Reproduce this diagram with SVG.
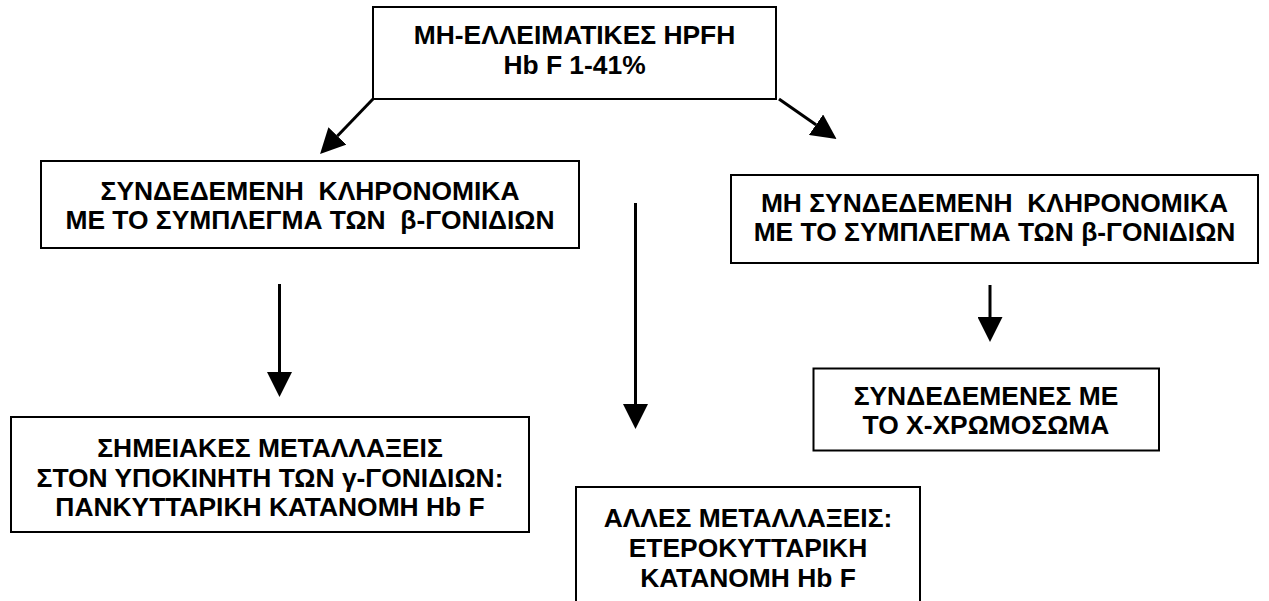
<svg xmlns="http://www.w3.org/2000/svg" width="1269" height="601" viewBox="0 0 1269 601">
<defs>
<style>
.box{fill:#fff;stroke:#000;stroke-width:2}
.t{font-family:"Liberation Sans",Arial,sans-serif;font-weight:bold;font-size:26.4px;fill:#000;text-anchor:middle;white-space:pre}
.c{stroke:#000;stroke-width:3;fill:none}
</style>
<marker id="ah" viewBox="0 0 25 25" refX="0" refY="12.5" markerWidth="25" markerHeight="25" markerUnits="userSpaceOnUse" orient="auto">
<path d="M0,0 L25,12.5 L0,25 Z" fill="#000"/>
</marker>
</defs>
<rect width="1269" height="601" fill="#fff"/>
<g id="connectors">
<path class="c" d="M373,99 L337.4,136" marker-end="url(#ah)"/>
<path class="c" d="M779,99 L816,124.7" marker-end="url(#ah)"/>
<path class="c" d="M279.5,284 L279.5,372" marker-end="url(#ah)"/>
<path class="c" d="M635.5,203 L635.5,404" marker-end="url(#ah)"/>
<path class="c" d="M990,285 L990,317" marker-end="url(#ah)"/>
</g>
<g id="n1">
<rect class="box" x="373" y="7" width="403" height="92"/>
<text class="t" x="574.5" y="44">ΜΗ-ΕΛΛΕΙΜΑΤΙΚΕΣ HPFH</text>
<text class="t" x="574.5" y="74">Hb F 1-41%</text>
</g>
<g id="n2">
<rect class="box" x="41" y="161" width="538" height="87"/>
<text class="t" x="310" y="200">ΣΥΝΔΕΔΕΜΕΝΗ  ΚΛΗΡΟΝΟΜΙΚΑ</text>
<text class="t" x="310" y="228.5">ΜΕ ΤΟ ΣΥΜΠΛΕΓΜΑ ΤΩΝ  β-ΓΟΝΙΔΙΩΝ</text>
</g>
<g id="n3">
<rect class="box" x="731" y="175" width="527" height="88"/>
<text class="t" x="994.5" y="212">ΜΗ ΣΥΝΔΕΔΕΜΕΝΗ  ΚΛΗΡΟΝΟΜΙΚΑ</text>
<text class="t" x="994.5" y="241">ΜΕ ΤΟ ΣΥΜΠΛΕΓΜΑ ΤΩΝ β-ΓΟΝΙΔΙΩΝ</text>
</g>
<g id="n4">
<rect class="box" x="11" y="417" width="518" height="115"/>
<text class="t" x="270" y="457">ΣΗΜΕΙΑΚΕΣ ΜΕΤΑΛΛΑΞΕΙΣ</text>
<text class="t" x="270" y="486.5">ΣΤΟΝ ΥΠΟΚΙΝΗΤΗ ΤΩΝ γ-ΓΟΝΙΔΙΩΝ:</text>
<text class="t" x="270" y="516">ΠΑΝΚΥΤΤΑΡΙΚΗ ΚΑΤΑΝΟΜΗ Hb F</text>
</g>
<g id="n5">
<rect class="box" x="576" y="487" width="344" height="130"/>
<text class="t" x="748" y="527">ΑΛΛΕΣ ΜΕΤΑΛΛΑΞΕΙΣ:</text>
<text class="t" x="748" y="557">ΕΤΕΡΟΚΥΤΤΑΡΙΚΗ</text>
<text class="t" x="748" y="587">ΚΑΤΑΝΟΜΗ Hb F</text>
</g>
<g id="n6">
<rect class="box" x="813.5" y="368.5" width="345.5" height="82"/>
<text class="t" x="986" y="405">ΣΥΝΔΕΔΕΜΕΝΕΣ ΜΕ</text>
<text class="t" x="986" y="433.5">ΤΟ Χ-ΧΡΩΜΟΣΩΜΑ</text>
</g>
</svg>
